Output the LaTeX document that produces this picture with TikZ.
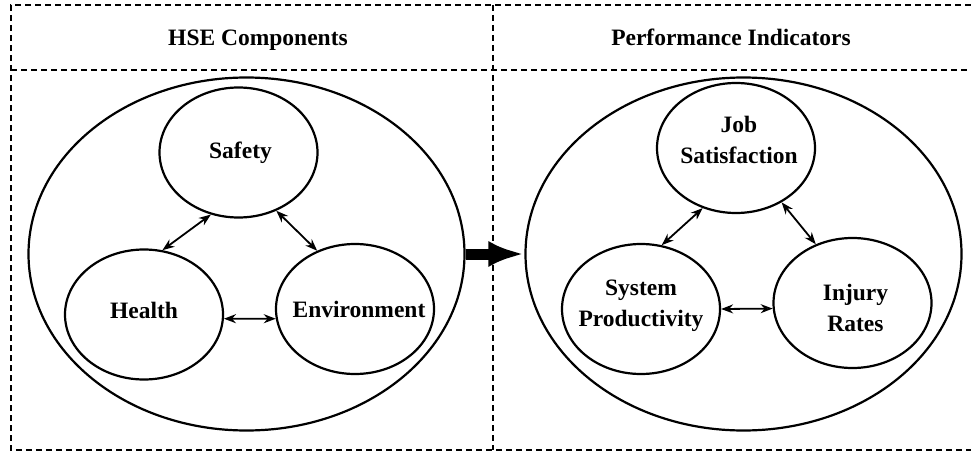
\documentclass[tikz,border=0pt]{standalone}
\usepackage{fontspec}
\setmainfont{Liberation Serif}
\usetikzlibrary{shapes.geometric,arrows.meta}

\tikzset{
        frameline/.style={line width=2.3pt, dash pattern=on 6pt off 4pt},
        bigoval/.style={draw, ellipse, line width=2.2pt, minimum width=436pt, minimum height=353pt, inner sep=0pt},
        oval/.style={draw, ellipse, line width=2.2pt, minimum width=158pt, minimum height=130pt, inner sep=0pt},
        lbl/.style={font=\fontsize{23.5}{31}\selectfont\bfseries, align=center, inner sep=0pt},
        twoway/.style={{Stealth[open,length=12pt,width=9pt]}-{Stealth[open,length=12pt,width=9pt]}, line width=1.8pt},
        bigarrow/.style={-{Latex[length=36pt,width=26pt]}, line width=11pt}
}

\begin{document}
\begin{tikzpicture}[x=1pt,y=-1pt]
        \useasboundingbox (0,0) rectangle (971,452);

        % dashed frame
        \draw[frameline] (971,5) -- (11,5) -- (11,450) -- (971,450);
        \draw[frameline] (11,70) -- (971,70);
        \draw[frameline] (493,5) -- (493,450);

        \node[lbl, anchor=base] (hsetitle) at (258,46) {HSE Components};
        \node[lbl, anchor=base] (perftitle) at (731,46) {Performance Indicators};

        % left group
        \node[bigoval] (hse) at (246.5,254) {};
        \node[oval, label={[lbl, xshift=2pt]center:Safety}] (safety) at (238.5,152.5) {};
        \node[oval, label={[lbl, yshift=4pt]center:Health}] (health) at (144,314.5) {};
        \node[oval, label={[lbl, xshift=4pt]center:Environment}] (environment) at (355,309) {};

        \draw[twoway] (safety.246) -- (health.74);
        \draw[twoway] (safety.303) -- (environment.123);
        \draw[twoway] (health.357) -- (environment.187);

        % right group
        \node[bigoval] (perf) at (743.5,254) {};
        \node[oval, label={[lbl, xshift=3pt, yshift=8pt]center:{Job\\Satisfaction}}] (jobsat) at (736,148) {};
        \node[oval, label={[lbl, yshift=3pt]center:{System\\Productivity}}] (sysprod) at (641,309) {};
        \node[oval, label={[lbl, xshift=3pt, yshift=-5pt]center:{Injury\\Rates}}] (injury) at (852.5,303) {};

        \draw[twoway] (jobsat.241) -- (sysprod.72);
        \draw[twoway] (jobsat.310) -- (injury.122);
        \draw[twoway] (sysprod.0) -- (injury.184);

        \draw[bigarrow] (hse.east) -- (perf.west);
\end{tikzpicture}
\end{document}
